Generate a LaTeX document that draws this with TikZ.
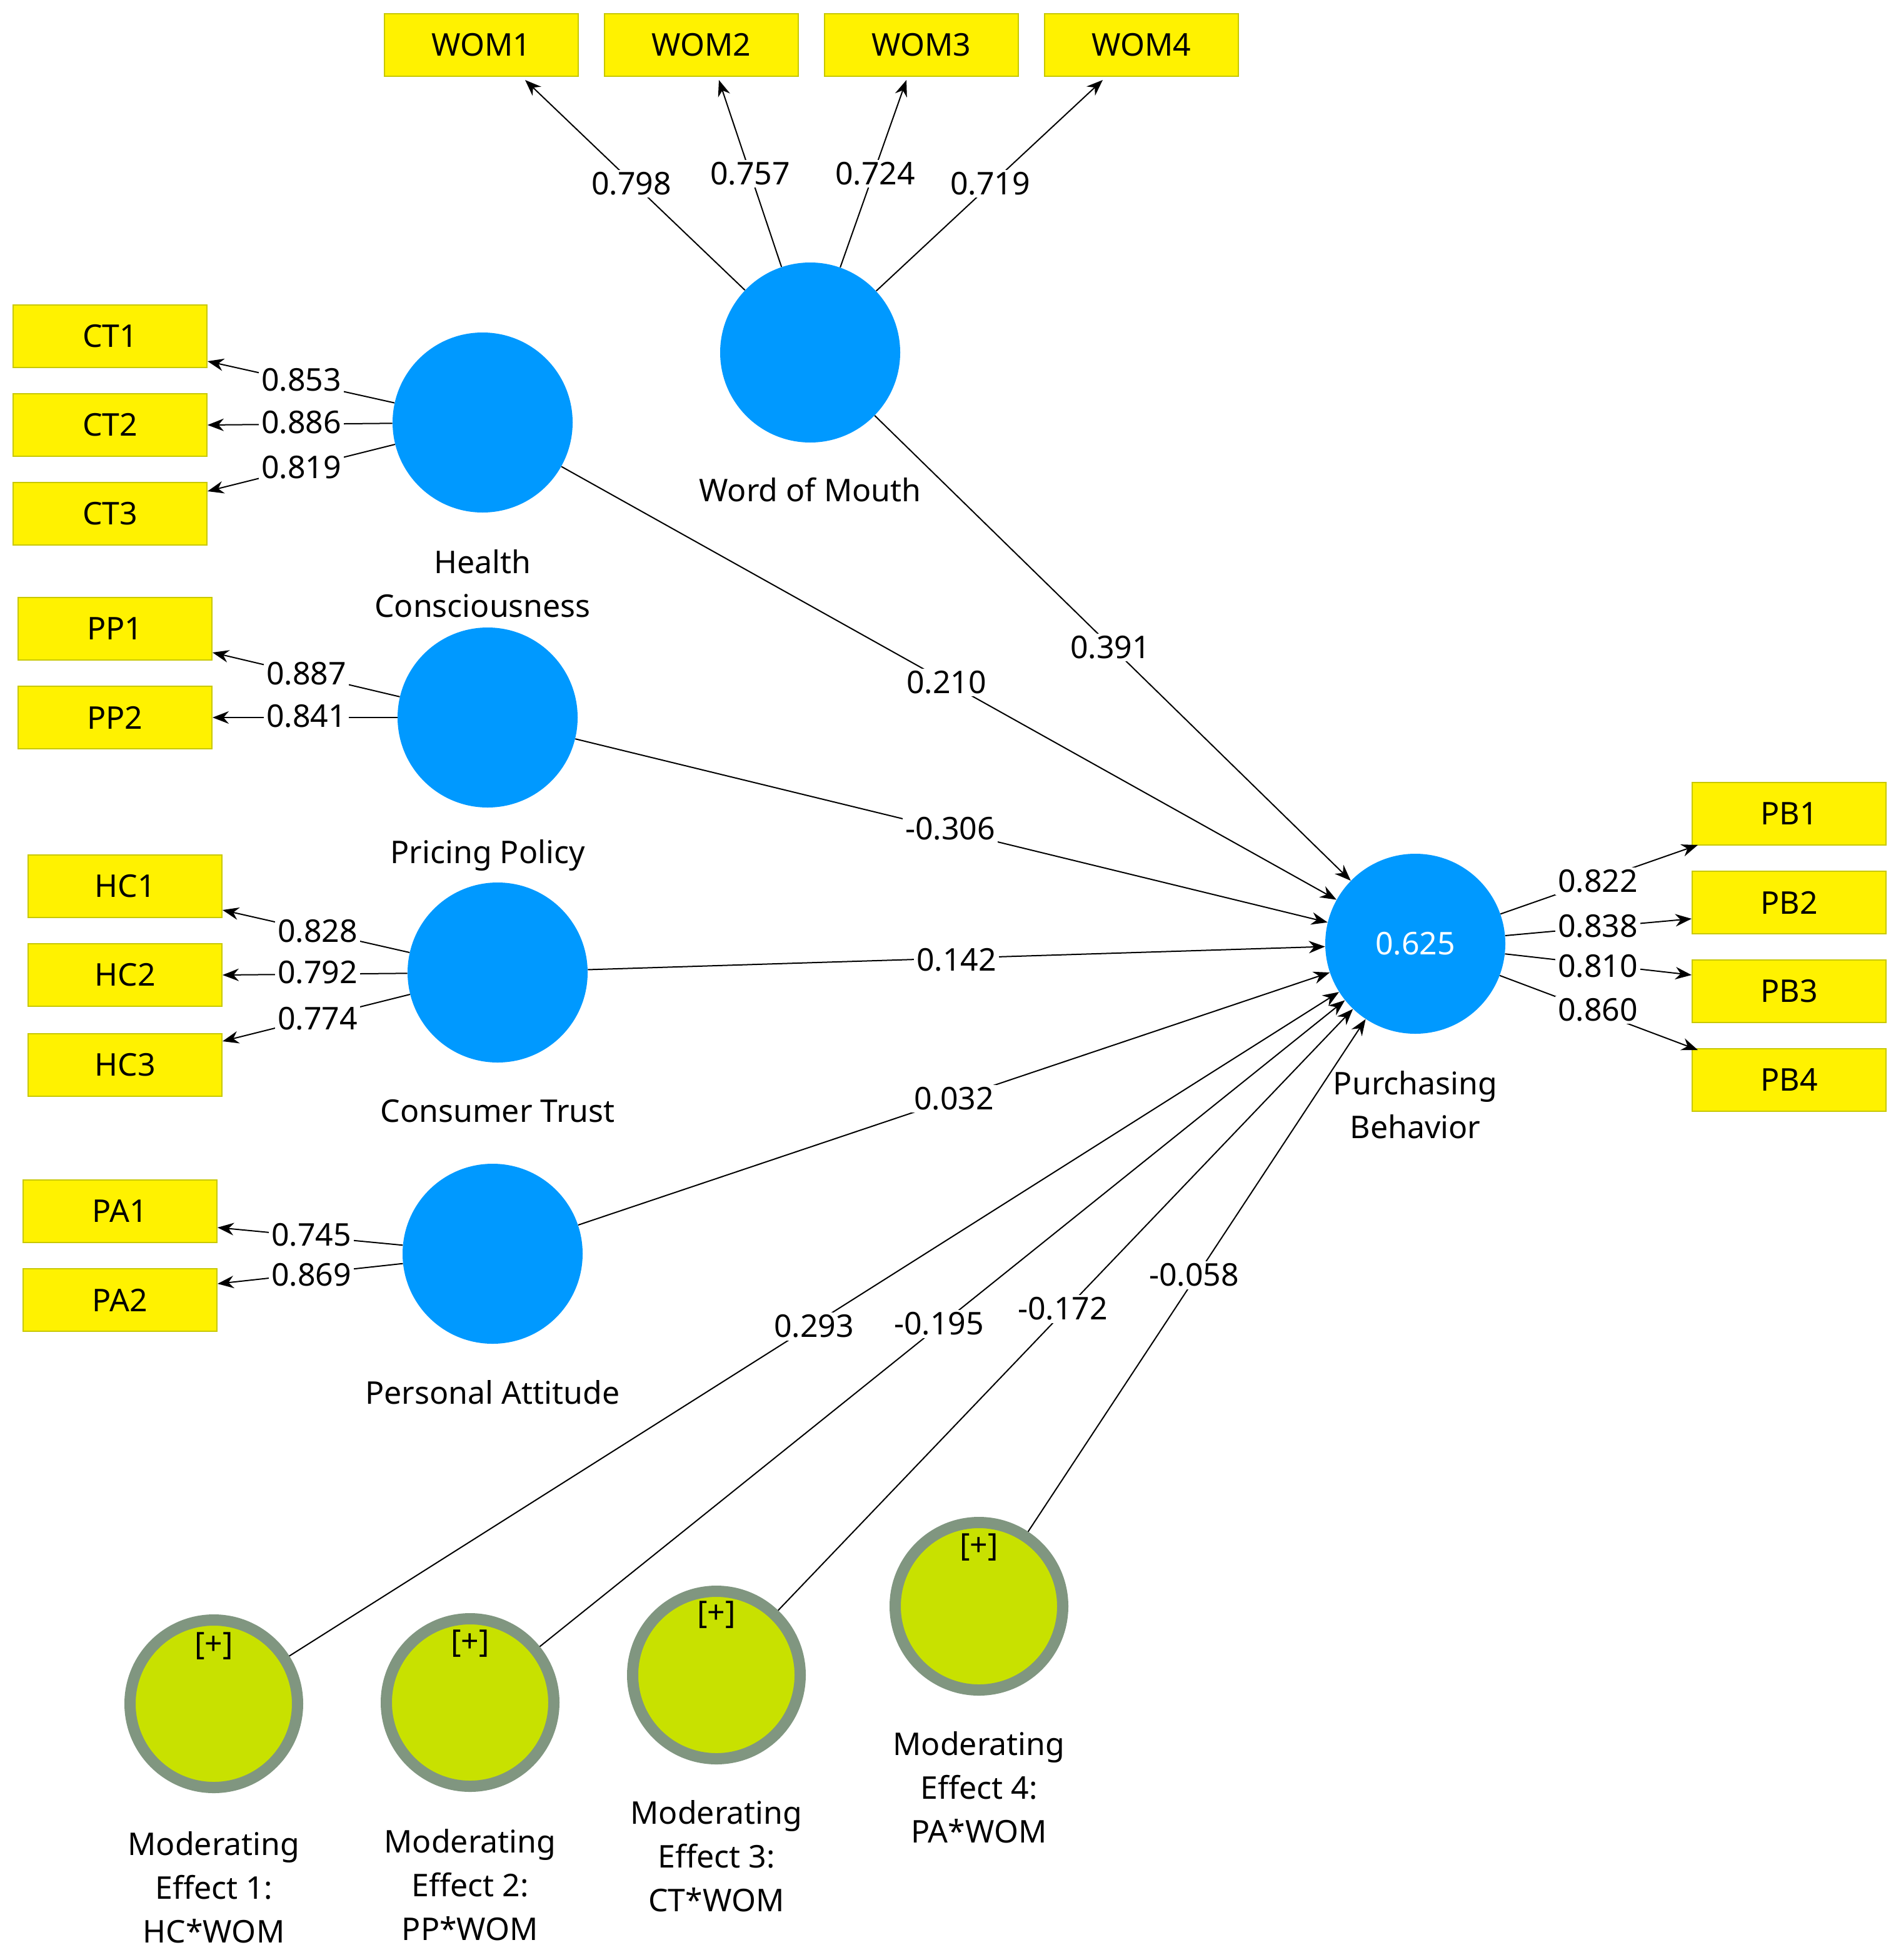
\documentclass[tikz,border=0pt]{standalone}
\usepackage{fontspec}
\setmainfont{Noto Sans}
\usetikzlibrary{arrows.meta}
\begin{document}
\begin{tikzpicture}[x=1pt,y=-1pt,
  font=\fontsize{25}{35}\selectfont,
  lv/.style={circle,fill={rgb,255:red,0;green,153;blue,255},minimum size=144pt,inner sep=0},
  md/.style={circle,fill={rgb,255:red,200;green,225;blue,0},draw={rgb,255:red,128;green,150;blue,128},line width=9pt,minimum size=134pt,inner sep=0},
  ind/.style={rectangle,fill=yellow,draw={rgb,255:red,200;green,200;blue,0},line width=1pt,minimum width=155pt,minimum height=50pt,inner sep=0},
  lab/.style={fill=white,inner sep=2pt},
  ar/.style={-{Stealth[length=13pt,width=10pt]},line width=1pt},
  captxt/.style={align=center}]
\useasboundingbox (0,0) rectangle (1520,1568);
% latent
\node[lv] (WOM) at (648,282) {};
\node[lv] (HC) at (386,338) {};
\node[lv] (PP) at (390,574) {};
\node[lv] (CT) at (398,778) {};
\node[lv] (PA) at (394,1003) {};
\node[lv,text=white] (PB) at (1132,755) {0.625};
\node[md] (M1) at (171,1363) {};
\node[md] (M2) at (376,1362) {};
\node[md] (M3) at (573,1340) {};
\node[md] (M4) at (783,1285) {};
\node (p1) at (171,1317) {[+]};
\node (p2) at (376,1315) {[+]};
\node (p3) at (573,1292) {[+]};
\node (p4) at (783,1238) {[+]};
% captions
\node[captxt] (cW) at (648,392) {Word of Mouth};
\node[captxt] (cH) at (386,467) {Health\\Consciousness};
\node[captxt] (cP) at (390,684) {Pricing Policy};
\node[captxt] (cC) at (398,889) {Consumer Trust};
\node[captxt] (cA) at (394,1114) {Personal Attitude};
\node[captxt] (cB) at (1132,884) {Purchasing\\Behavior};
\node[captxt] (c1) at (171,1510) {Moderating\\Effect 1:\\HC*WOM};
\node[captxt] (c2) at (376,1508) {Moderating\\Effect 2:\\PP*WOM};
\node[captxt] (c3) at (573,1485) {Moderating\\Effect 3:\\CT*WOM};
\node[captxt] (c4) at (783,1430) {Moderating\\Effect 4:\\PA*WOM};
% indicators
\node[ind] (WOM1) at (385,36) {WOM1};
\node[ind] (WOM2) at (561,36) {WOM2};
\node[ind] (WOM3) at (737,36) {WOM3};
\node[ind] (WOM4) at (913,36) {WOM4};
\node[ind] (CT1) at (88,269) {CT1};
\node[ind] (CT2) at (88,340) {CT2};
\node[ind] (CT3) at (88,411) {CT3};
\node[ind] (PP1) at (92,503) {PP1};
\node[ind] (PP2) at (92,574) {PP2};
\node[ind] (HC1) at (100,709) {HC1};
\node[ind] (HC2) at (100,780) {HC2};
\node[ind] (HC3) at (100,852) {HC3};
\node[ind] (PA1) at (96,969) {PA1};
\node[ind] (PA2) at (96,1040) {PA2};
\node[ind] (PB1) at (1431,651) {PB1};
\node[ind] (PB2) at (1431,722) {PB2};
\node[ind] (PB3) at (1431,793) {PB3};
\node[ind] (PB4) at (1431,864) {PB4};
% outer loadings
\coordinate (w1) at (420,64); \coordinate (w2) at (575,64);
\coordinate (w3) at (725,64); \coordinate (w4) at (882,64);
\draw[ar] (WOM) -- (w1); \draw[ar] (WOM) -- (w2);
\draw[ar] (WOM) -- (w3); \draw[ar] (WOM) -- (w4);
\coordinate (t1) at (166,289); \coordinate (t2) at (166,340); \coordinate (t3) at (166,393);
\draw[ar] (HC) -- (t1); \draw[ar] (HC) -- (t2); \draw[ar] (HC) -- (t3);
\coordinate (q1) at (170,522); \coordinate (q2) at (170,574);
\draw[ar] (PP) -- (q1); \draw[ar] (PP) -- (q2);
\coordinate (h1) at (178,728); \coordinate (h2) at (178,780); \coordinate (h3) at (178,833);
\draw[ar] (CT) -- (h1); \draw[ar] (CT) -- (h2); \draw[ar] (CT) -- (h3);
\coordinate (a1) at (174,982); \coordinate (a2) at (174,1027);
\draw[ar] (PA) -- (a1); \draw[ar] (PA) -- (a2);
\coordinate (b1) at (1358,676); \coordinate (b2) at (1353,735);
\coordinate (b3) at (1353,780); \coordinate (b4) at (1358,840);
\draw[ar] (PB) -- (b1); \draw[ar] (PB) -- (b2); \draw[ar] (PB) -- (b3); \draw[ar] (PB) -- (b4);
% structural paths
\foreach \s in {WOM,HC,PP,CT,PA,M1,M2,M3,M4} \draw[ar] (\s) -- (PB);
% labels
\node[lab] (l1) at (505,147) {0.798};
\node[lab] (l2) at (600,139) {0.757};
\node[lab] (l3) at (700,139) {0.724};
\node[lab] (l4) at (792,147) {0.719};
\node[lab] (l5) at (241,304) {0.853};
\node[lab] (l6) at (241,338) {0.886};
\node[lab] (l7) at (241,374) {0.819};
\node[lab] (l8) at (245,539) {0.887};
\node[lab] (l9) at (245,573) {0.841};
\node[lab] (l10) at (254,745) {0.828};
\node[lab] (l11) at (254,778) {0.792};
\node[lab] (l12) at (254,815) {0.774};
\node[lab] (l13) at (249,988) {0.745};
\node[lab] (l14) at (249,1020) {0.869};
\node[lab] (l15) at (1278,705) {0.822};
\node[lab] (l16) at (1278,741) {0.838};
\node[lab] (l17) at (1278,773) {0.810};
\node[lab] (l18) at (1278,808) {0.860};
\node[lab] (l19) at (888,518) {0.391};
\node[lab] (l20) at (757,546) {0.210};
\node[lab] (l21) at (760,663) {-0.306};
\node[lab] (l22) at (765,768) {0.142};
\node[lab] (l23) at (763,879) {0.032};
\node[lab] (l24) at (651,1061) {0.293};
\node[lab] (l25) at (751,1059) {-0.195};
\node[lab] (l26) at (850,1047) {-0.172};
\node[lab] (l27) at (955,1020) {-0.058};
\end{tikzpicture}
\end{document}
